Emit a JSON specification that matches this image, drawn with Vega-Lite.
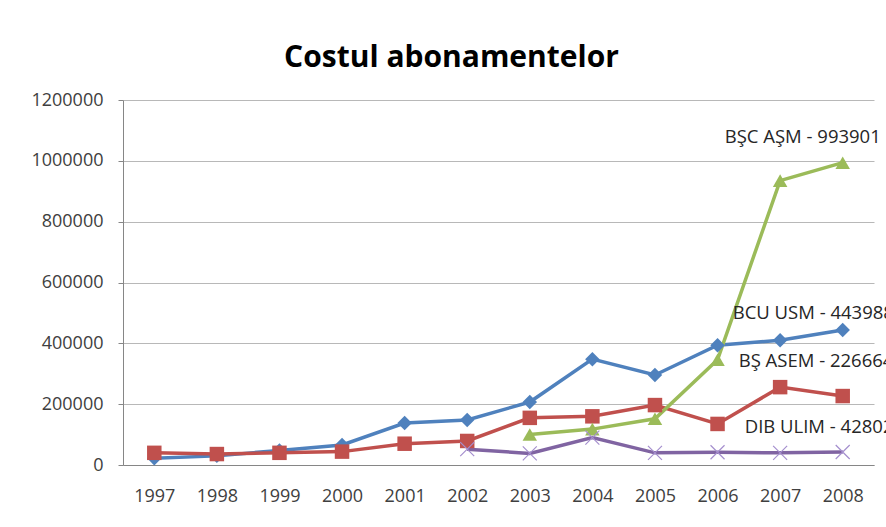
{
  "$schema": "https://vega.github.io/schema/vega-lite/v6.json",
  "width": 751,
  "height": 365,
  "autosize": {"type": "none"},
  "padding": {"left": 123, "top": 100, "right": 12, "bottom": 62},
  "background": "white",
  "title": {
    "text": "Costul abonamentelor",
    "font": "Open Sans",
    "fontSize": 30,
    "fontWeight": "bold",
    "color": "#000000",
    "anchor": "middle",
    "frame": "group",
    "baseline": "alphabetic",
    "offset": 34,
    "dx": -47,
    "dy": 40
  },
  "config": {
    "view": {"stroke": null},
    "font": "Open Sans"
  },
  "data": {
    "values": [
      {"year": "1997", "series": "BCU USM", "value": 22000},
      {"year": "1998", "series": "BCU USM", "value": 30000},
      {"year": "1999", "series": "BCU USM", "value": 48000},
      {"year": "2000", "series": "BCU USM", "value": 66000},
      {"year": "2001", "series": "BCU USM", "value": 138000},
      {"year": "2002", "series": "BCU USM", "value": 148000},
      {"year": "2003", "series": "BCU USM", "value": 207000},
      {"year": "2004", "series": "BCU USM", "value": 348000},
      {"year": "2005", "series": "BCU USM", "value": 296000},
      {"year": "2006", "series": "BCU USM", "value": 394000},
      {"year": "2007", "series": "BCU USM", "value": 410000},
      {"year": "2008", "series": "BCU USM", "value": 443988},
      {"year": "1997", "series": "BŞ ASEM", "value": 40000},
      {"year": "1998", "series": "BŞ ASEM", "value": 36000},
      {"year": "1999", "series": "BŞ ASEM", "value": 40000},
      {"year": "2000", "series": "BŞ ASEM", "value": 44000},
      {"year": "2001", "series": "BŞ ASEM", "value": 70000},
      {"year": "2002", "series": "BŞ ASEM", "value": 79000},
      {"year": "2003", "series": "BŞ ASEM", "value": 155000},
      {"year": "2004", "series": "BŞ ASEM", "value": 160000},
      {"year": "2005", "series": "BŞ ASEM", "value": 197000},
      {"year": "2006", "series": "BŞ ASEM", "value": 135000},
      {"year": "2007", "series": "BŞ ASEM", "value": 256000},
      {"year": "2008", "series": "BŞ ASEM", "value": 226664},
      {"year": "2003", "series": "BŞC AŞM", "value": 100000},
      {"year": "2004", "series": "BŞC AŞM", "value": 118000},
      {"year": "2005", "series": "BŞC AŞM", "value": 152000},
      {"year": "2006", "series": "BŞC AŞM", "value": 346000},
      {"year": "2007", "series": "BŞC AŞM", "value": 935000},
      {"year": "2008", "series": "BŞC AŞM", "value": 993901},
      {"year": "2002", "series": "DIB ULIM", "value": 52000},
      {"year": "2003", "series": "DIB ULIM", "value": 38000},
      {"year": "2004", "series": "DIB ULIM", "value": 90000},
      {"year": "2005", "series": "DIB ULIM", "value": 40000},
      {"year": "2006", "series": "DIB ULIM", "value": 42000},
      {"year": "2007", "series": "DIB ULIM", "value": 40000},
      {"year": "2008", "series": "DIB ULIM", "value": 42802}
    ]
  },
  "encoding": {
    "x": {
      "field": "year",
      "type": "ordinal",
      "scale": {"type": "point", "padding": 0.5},
      "axis": {
        "title": null,
        "labelAngle": 0,
        "labelFont": "Open Sans",
        "labelFontSize": 18,
        "labelColor": "#404040",
        "labelPadding": 22,
        "ticks": false,
        "grid": false,
        "domainColor": "#868686",
        "domainWidth": 1
      }
    },
    "y": {
      "field": "value",
      "type": "quantitative",
      "scale": {"domain": [0, 1200000], "nice": false},
      "axis": {
        "title": null,
        "values": [0, 200000, 400000, 600000, 800000, 1000000, 1200000],
        "format": "d",
        "labelFont": "Open Sans",
        "labelFontSize": 18,
        "labelColor": "#404040",
        "labelPadding": 15,
        "tickSize": 5,
        "tickColor": "#868686",
        "domainColor": "#868686",
        "gridColor": "#b8b8b8",
        "gridWidth": 1
      }
    }
  },
  "layer": [
    {
      "mark": {"type": "line", "strokeWidth": 3.5},
      "encoding": {
        "color": {
          "field": "series",
          "type": "nominal",
          "scale": {
            "domain": ["BCU USM", "BŞ ASEM", "BŞC AŞM", "DIB ULIM"],
            "range": ["#4F81BD", "#C0504D", "#9BBB59", "#8064A2"]
          },
          "legend": null
        }
      }
    },
    {
      "transform": [{"filter": "datum.series !== 'DIB ULIM'"}],
      "mark": {"type": "point", "filled": true, "opacity": 1, "size": 210},
      "encoding": {
        "color": {
          "field": "series",
          "type": "nominal",
          "scale": {
            "domain": ["BCU USM", "BŞ ASEM", "BŞC AŞM", "DIB ULIM"],
            "range": ["#4F81BD", "#C0504D", "#9BBB59", "#8064A2"]
          },
          "legend": null
        },
        "shape": {
          "field": "series",
          "type": "nominal",
          "scale": {
            "domain": ["BCU USM", "BŞ ASEM", "BŞC AŞM"],
            "range": ["diamond", "square", "triangle-up"]
          },
          "legend": null
        }
      }
    },
    {
      "transform": [{"filter": "datum.series === 'DIB ULIM'"}],
      "mark": {
        "type": "point",
        "filled": false,
        "shape": "M-1,-1L1,1M-1,1L1,-1",
        "size": 196,
        "stroke": "#A58FCE",
        "strokeWidth": 1.2,
        "opacity": 1
      }
    },
    {
      "data": {"values": [{"year": "2008", "value": 993901, "label": "BŞC  AŞM - 993901"}]},
      "mark": {"type": "text", "align": "left", "baseline": "middle", "dx": -118, "dy": -26, "font": "Open Sans", "fontSize": 18.5, "color": "#262626"},
      "encoding": {"text": {"field": "label"}}
    },
    {
      "data": {"values": [{"year": "2008", "value": 443988, "label": "BCU USM - 443988"}]},
      "mark": {"type": "text", "align": "left", "baseline": "middle", "dx": -110, "dy": -17, "font": "Open Sans", "fontSize": 18.5, "color": "#262626"},
      "encoding": {"text": {"field": "label"}}
    },
    {
      "data": {"values": [{"year": "2008", "value": 226664, "label": "BŞ ASEM - 226664"}]},
      "mark": {"type": "text", "align": "left", "baseline": "middle", "dx": -104, "dy": -35, "font": "Open Sans", "fontSize": 18.5, "color": "#262626"},
      "encoding": {"text": {"field": "label"}}
    },
    {
      "data": {"values": [{"year": "2008", "value": 42802, "label": "DIB ULIM - 42802"}]},
      "mark": {"type": "text", "align": "left", "baseline": "middle", "dx": -98, "dy": -25, "font": "Open Sans", "fontSize": 18.5, "color": "#262626"},
      "encoding": {"text": {"field": "label"}}
    }
  ]
}
